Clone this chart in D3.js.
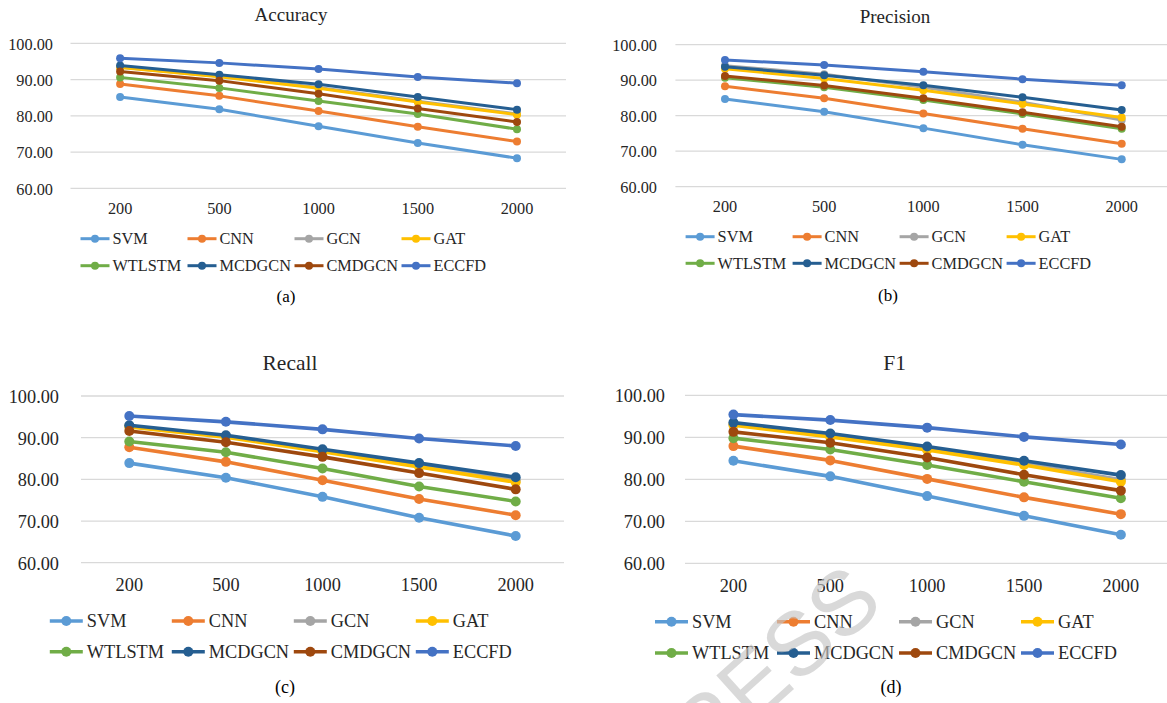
<!DOCTYPE html>
<html>
<head>
<meta charset="utf-8">
<script src="https://cdn.jsdelivr.net/npm/d3@7"></script>
<style>
  html, body { margin: 0; padding: 0; background: #fff; }
  svg { display: block; }
  text.serif { font-family: "Liberation Serif", "Times New Roman", serif; }
</style>
</head>
<body>
<svg id="chart" width="1167" height="703"></svg>
<script>
// ---------------- data ----------------
const sizes = ["200", "500", "1000", "1500", "2000"];
const models = ["SVM", "CNN", "GCN", "GAT", "WTLSTM", "MCDGCN", "CMDGCN", "ECCFD"];
const yTicks = [60, 70, 80, 90, 100];
const metricTitles = ["Accuracy", "Precision", "Recall", "F1"];
const captions = ["(a)", "(b)", "(c)", "(d)"];

// rows follow the order of `models`
const accuracy = [
  [85.2, 81.8, 77.1, 72.5, 68.3],
  [88.8, 85.5, 81.3, 77.0, 72.9],
  [93.4, 90.9, 87.8, 84.0, 80.5],
  [93.3, 90.8, 87.6, 83.8, 80.3],
  [90.6, 87.7, 84.1, 80.5, 76.3],
  [93.9, 91.3, 88.7, 85.2, 81.7],
  [92.2, 89.7, 86.1, 82.0, 78.3],
  [95.9, 94.6, 92.9, 90.7, 89.0]
];
const precision = [
  [84.7, 81.1, 76.5, 71.8, 67.7],
  [88.3, 84.9, 80.6, 76.3, 72.1],
  [94.1, 91.7, 88.0, 83.8, 78.8],
  [93.2, 90.5, 87.2, 83.3, 79.5],
  [90.7, 88.0, 84.4, 80.5, 76.3],
  [93.8, 91.4, 88.6, 85.2, 81.6],
  [91.2, 88.5, 84.9, 81.0, 76.9],
  [95.7, 94.3, 92.4, 90.3, 88.6]
];
const recall = [
  [83.9, 80.4, 75.8, 70.8, 66.4],
  [87.7, 84.2, 79.8, 75.3, 71.4],
  [92.8, 90.3, 86.9, 83.4, 79.8],
  [92.6, 90.1, 86.6, 83.0, 79.3],
  [89.1, 86.5, 82.6, 78.3, 74.7],
  [93.0, 90.6, 87.2, 83.9, 80.5],
  [91.6, 88.9, 85.4, 81.5, 77.6],
  [95.2, 93.8, 92.0, 89.8, 88.0]
];
const f1 = [
  [84.4, 80.7, 76.0, 71.3, 66.8],
  [87.9, 84.5, 80.1, 75.7, 71.7],
  [93.1, 90.4, 87.3, 83.8, 79.9],
  [92.9, 90.1, 87.0, 83.4, 79.4],
  [89.8, 87.1, 83.4, 79.4, 75.5],
  [93.5, 90.9, 87.8, 84.4, 81.0],
  [91.3, 88.7, 85.2, 81.1, 77.3],
  [95.4, 94.1, 92.3, 90.1, 88.3]
];
const metricData = [accuracy, precision, recall, f1];

const colors = ["#5B9BD5", "#ED7D31", "#A5A5A5", "#FFC000", "#70AD47", "#255E91", "#9E480E", "#4472C4"];

// ---------------- layout ----------------
const layouts = [
  { left: 70.5, right: 566.6, yTop: 43.3, yBot: 188.3, gridEnd: 566, labRight: 53,
    titleX: 291, titleY: 14, titleSize: 19, tickSize: 16.3, xLabY: 208,
    legX: 80.5, legDx: 107, legRows: [238.7, 265.7], legLine: 29, legTextOff: 32, legSize: 16.3,
    capX: 286, capY: 296.5, capSize: 17, lw: 3, r: 4 },
  { left: 675.4, right: 1171.3, yTop: 44.7, yBot: 186.7, gridEnd: 1167, labRight: 657,
    titleX: 895, titleY: 16, titleSize: 19, tickSize: 16.3, xLabY: 206,
    legX: 685.6, legDx: 107, legRows: [236.7, 263.3], legLine: 29, legTextOff: 32, legSize: 16.3,
    capX: 888, capY: 295, capSize: 17, lw: 3, r: 4 },
  { left: 81, right: 564, yTop: 396, yBot: 562.7, gridEnd: 564, labRight: 59,
    titleX: 290, titleY: 362.7, titleSize: 21.5, tickSize: 18.3, xLabY: 585,
    legX: 49.8, legDx: 122, legRows: [621, 651.7], legLine: 33, legTextOff: 37, legSize: 18.3,
    capX: 285, capY: 686.7, capSize: 18, lw: 3.6, r: 5 },
  { left: 685, right: 1169.3, yTop: 395.3, yBot: 563.3, gridEnd: 1167, labRight: 665,
    titleX: 894.6, titleY: 362.7, titleSize: 21.5, tickSize: 18.3, xLabY: 586,
    legX: 655, legDx: 122, legRows: [621.7, 653], legLine: 33, legTextOff: 37, legSize: 18.3,
    capX: 891, capY: 686.7, capSize: 18, lw: 3.6, r: 5 }
];

const svg = d3.select("#chart");
const textColor = "#262626";

metricData.forEach((rows, pi) => {
  const L = layouts[pi];
  const g = svg.append("g");

  const x = d3.scaleBand().domain(sizes).range([L.left, L.right]).paddingInner(0).paddingOuter(0);
  const y = d3.scaleLinear().domain([60, 100]).range([L.yBot, L.yTop]);
  const cx = d => x(d) + x.bandwidth() / 2;

  // gridlines
  g.selectAll("line.grid").data(yTicks).join("line")
    .attr("x1", L.left).attr("x2", L.gridEnd)
    .attr("y1", d => y(d)).attr("y2", d => y(d))
    .attr("stroke", "#D9D9D9").attr("stroke-width", 1.3);

  // y axis (labels only)
  const yAxis = d3.axisLeft(y).tickValues(yTicks).tickFormat(d3.format(".2f")).tickSize(0).tickPadding(0);
  const ya = g.append("g").attr("transform", `translate(${L.labRight},0)`).call(yAxis);
  ya.select(".domain").remove();
  ya.selectAll("text").attr("class", "serif").attr("font-size", L.tickSize).attr("fill", textColor)
    .attr("dy", "0.35em");

  // x axis (labels only)
  const xAxis = d3.axisBottom(x).tickSize(0).tickPadding(0);
  const xa = g.append("g").attr("transform", `translate(0,${L.xLabY})`).call(xAxis);
  xa.select(".domain").remove();
  xa.selectAll("text").attr("class", "serif").attr("font-size", L.tickSize).attr("fill", textColor)
    .attr("dy", "0.35em");

  // title
  g.append("text").attr("class", "serif").attr("x", L.titleX).attr("y", L.titleY)
    .attr("text-anchor", "middle").attr("dominant-baseline", "central")
    .attr("font-size", L.titleSize).attr("fill", textColor).text(metricTitles[pi]);

  // series
  const line = d3.line().x((d, i) => cx(sizes[i])).y(d => y(d));
  rows.forEach((vals, si) => {
    const sg = g.append("g");
    sg.append("path").datum(vals).attr("d", line)
      .attr("fill", "none").attr("stroke", colors[si]).attr("stroke-width", L.lw)
      .attr("stroke-linejoin", "round");
    sg.selectAll("circle").data(vals).join("circle")
      .attr("cx", (d, i) => cx(sizes[i])).attr("cy", d => y(d))
      .attr("r", L.r).attr("fill", colors[si]);
  });

  // legend
  models.forEach((m, si) => {
    const col = si % 4, row = Math.floor(si / 4);
    const lx = L.legX + col * L.legDx, ly = L.legRows[row];
    const lg = g.append("g");
    lg.append("line").attr("x1", lx).attr("x2", lx + L.legLine).attr("y1", ly).attr("y2", ly)
      .attr("stroke", colors[si]).attr("stroke-width", L.lw);
    lg.append("circle").attr("cx", lx + L.legLine / 2).attr("cy", ly).attr("r", L.r).attr("fill", colors[si]);
    lg.append("text").attr("class", "serif").attr("x", lx + L.legTextOff).attr("y", ly)
      .attr("dominant-baseline", "central").attr("font-size", L.legSize).attr("fill", textColor).text(m);
  });

  // caption
  g.append("text").attr("class", "serif").attr("x", L.capX).attr("y", L.capY)
    .attr("text-anchor", "middle").attr("dominant-baseline", "central")
    .attr("font-size", L.capSize).attr("fill", "#000").text(captions[pi]);
});

// watermark (journal "IN PRESS" stamp, partly outside the page)
svg.append("text")
  .attr("transform", "translate(886,606) rotate(-42)")
  .attr("text-anchor", "end")
  .style("font-family", "'Liberation Sans', Arial, sans-serif")
  .attr("font-size", 90)
  .attr("fill", "#c4c4c4").attr("fill-opacity", 0.65)
  .text("PRESS");
</script>
</body>
</html>
